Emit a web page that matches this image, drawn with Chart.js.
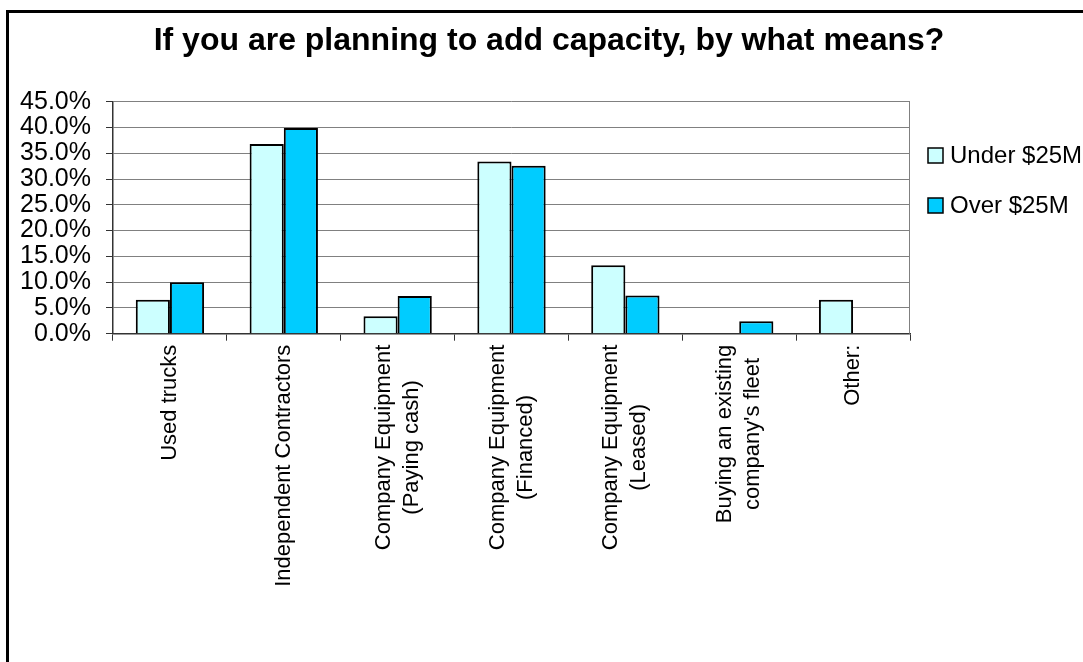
<!DOCTYPE html>
<html>
<head>
<meta charset="utf-8">
<script src="https://cdn.jsdelivr.net/npm/chart.js@4.4.1/dist/chart.umd.min.js"></script>
<style>
  html, body { margin: 0; padding: 0; background: #fff; overflow: hidden; }
  canvas { display: block; }
</style>
</head>
<body>
<canvas id="capacity-chart" width="1083" height="662"></canvas>
<script>
const chartTitle = 'If you are planning to add capacity, by what means?';
const categories = [
  ['Used trucks'],
  ['Independent Contractors'],
  ['Company Equipment', '(Paying cash)'],
  ['Company Equipment', '(Financed)'],
  ['Company Equipment', '(Leased)'],
  ['Buying an existing', "company's fleet"],
  ['Other:']
];
const seriesNames = ['Under $25M', 'Over $25M'];
const underValues = [6.6, 36.8, 3.4, 33.4, 13.3, 0, 6.6];
const overValues = [10.0, 39.9, 7.3, 32.6, 7.4, 2.4, 0];
const seriesColors = ['#CCFFFF', '#00CCFF'];

const FONT = '"Liberation Sans", Arial, sans-serif';

// frame, title, right edge of the plot, rotated category labels and the legend
const decorations = {
  id: 'decorations',
  beforeDraw(chart) {
    const ctx = chart.ctx;
    ctx.save();
    ctx.fillStyle = '#fff';
    ctx.fillRect(0, 0, chart.width, chart.height);
    ctx.strokeStyle = '#000';
    ctx.lineWidth = 3;
    ctx.strokeRect(7.5, 11.5, chart.width + 50, chart.height + 50);

    ctx.fillStyle = '#000';
    ctx.font = 'bold 32px ' + FONT;
    ctx.textAlign = 'center';
    ctx.textBaseline = 'alphabetic';
    ctx.fillText(chartTitle, 549, 50);
    ctx.restore();
  },
  afterDraw(chart) {
    const ctx = chart.ctx;
    const area = chart.chartArea;
    const xScale = chart.scales.x;
    ctx.save();

    ctx.strokeStyle = '#808080';
    ctx.lineWidth = 1;
    ctx.beginPath();
    ctx.moveTo(area.right - 0.5, area.top);
    ctx.lineTo(area.right - 0.5, area.bottom);
    ctx.stroke();

    // category labels, lines centred inside each block
    ctx.fillStyle = '#000';
    ctx.font = '22px ' + FONT;
    ctx.textAlign = 'center';
    ctx.textBaseline = 'middle';
    const lineH = 28;
    categories.forEach((lines, i) => {
      const cx = xScale.getPixelForValue(i);
      const maxW = Math.max(...lines.map(l => ctx.measureText(l).width));
      ctx.save();
      ctx.translate(cx, area.bottom + 11);
      ctx.rotate(-Math.PI / 2);
      lines.forEach((line, j) => {
        ctx.fillText(line, -maxW / 2, (j - (lines.length - 1) / 2) * lineH);
      });
      ctx.restore();
    });

    // legend
    ctx.font = '24px ' + FONT;
    ctx.textAlign = 'left';
    seriesNames.forEach((name, i) => {
      const y = 155.5 + i * 50;
      ctx.fillStyle = seriesColors[i];
      ctx.fillRect(928, y - 7.5, 15, 15);
      ctx.strokeStyle = '#000';
      ctx.lineWidth = 1.5;
      ctx.strokeRect(928, y - 7.5, 15, 15);
      ctx.fillStyle = '#000';
      ctx.fillText(name, 950, y + 1);
    });
    ctx.restore();
  }
};

new Chart(document.getElementById('capacity-chart'), {
  type: 'bar',
  data: {
    labels: categories.map(c => c.join(' ')),
    datasets: [
      {
        label: seriesNames[0],
        data: underValues,
        backgroundColor: seriesColors[0],
        borderColor: '#000',
        borderWidth: 2
      },
      {
        label: seriesNames[1],
        data: overValues,
        backgroundColor: seriesColors[1],
        borderColor: '#000',
        borderWidth: 2
      }
    ]
  },
  options: {
    responsive: false,
    animation: false,
    devicePixelRatio: 1,
    layout: { padding: { left: 0, right: 173, top: 101.7, bottom: 0 } },
    datasets: {
      bar: { categoryPercentage: 0.6, barPercentage: 1.0 }
    },
    plugins: {
      legend: { display: false },
      tooltip: { enabled: false },
      title: { display: false }
    },
    scales: {
      x: {
        offset: true,
        grid: {
          offset: true,
          drawOnChartArea: false,
          drawTicks: true,
          tickLength: 7,
          tickColor: '#333',
          color: '#333'
        },
        border: { color: '#333', width: 1.5 },
        ticks: { display: false },
        afterFit(scale) { scale.height = 328.3; }
      },
      y: {
        min: 0,
        max: 45,
        grid: {
          color: '#808080',
          lineWidth: 1,
          tickLength: 7,
          tickColor: '#333'
        },
        border: { color: '#333', width: 1.5 },
        ticks: {
          stepSize: 5,
          autoSkip: false,
          padding: 15,
          color: '#000',
          font: { family: FONT, size: 25, lineHeight: 1 },
          callback: v => v.toFixed(1) + '%'
        },
        afterFit(scale) { scale.width = 113; }
      }
    }
  },
  plugins: [decorations]
});
</script>
</body>
</html>
